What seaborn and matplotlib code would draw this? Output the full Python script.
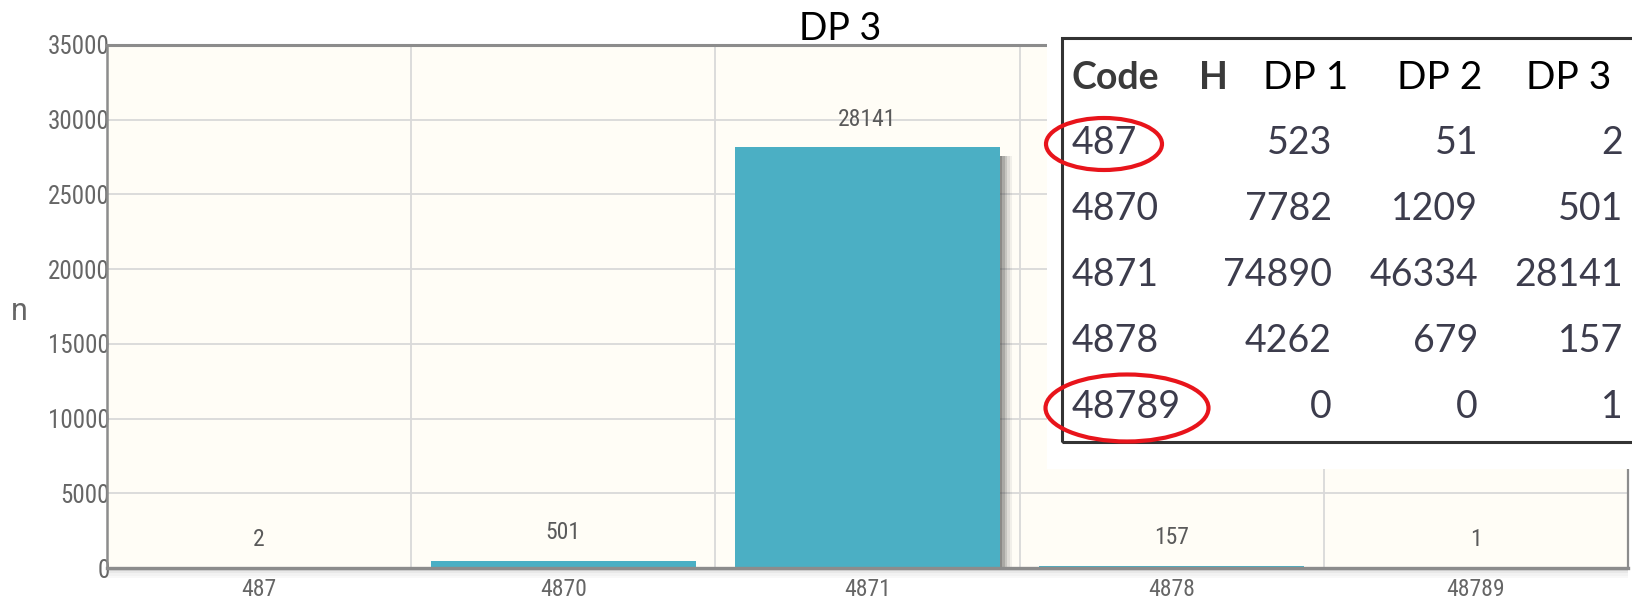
import numpy as np
import pandas as pd
import matplotlib
matplotlib.use('Agg')
import matplotlib.pyplot as plt
from matplotlib import font_manager
from matplotlib.patches import Rectangle, Ellipse
import seaborn as sns

codes = ['487', '4870', '4871', '4878', '48789']
dp1 = [523, 7782, 74890, 4262, 0]
dp2 = [51, 1209, 46334, 679, 0]
dp3 = [2, 501, 28141, 157, 1]
y_ticks = [0, 5000, 10000, 15000, 20000, 25000, 30000, 35000]

W, H = 1633, 600

# pick a narrow font for the chart labels if there is one
names = {f.name for f in font_manager.fontManager.ttflist}
narrow = 'Roboto'
for cand in ['Liberation Sans Narrow', 'Roboto Condensed', 'DejaVu Sans Condensed']:
    if cand in names:
        narrow = cand
        break

sns.set_style('white')
plt.rcParams['font.family'] = ['Lato', 'DejaVu Sans']

fig = plt.figure(figsize=(W / 100, H / 100), dpi=100)
fig.patch.set_facecolor('white')
ax = fig.add_axes([107 / W, 32 / H, 1521 / W, 523 / H])
ax.set_facecolor('#fffdf6')

df = pd.DataFrame({'code': codes, 'n': dp3})
sns.barplot(data=df, x='code', y='n', color='#4bafc4', saturation=1,
            width=0.87, ax=ax, zorder=3, linewidth=0)

# soft shadow on the right side of each bar
for p in list(ax.patches):
    x0, w, h = p.get_x(), p.get_width(), p.get_height()
    if h > 600:
        for k, a in enumerate([0.62, 0.45, 0.30, 0.17, 0.07]):
            ax.add_patch(Rectangle((x0 + w + k * 0.008, 0), 0.008, h - 600,
                                   color='#444444', alpha=a, lw=0, zorder=2))

ax.bar_label(ax.containers[0], labels=[str(v) for v in dp3], padding=12,
             color='#5a5a5a', fontsize=17, family=narrow)

ax.set_xlim(-0.5, 4.5)
ax.set_ylim(0, 35000)
ax.set_yticks(y_ticks)
ax.set_yticklabels([str(v) for v in y_ticks])
ax.set_xticks(np.arange(-0.5, 5, 1), minor=True)

ax.set_axisbelow(True)
ax.yaxis.grid(True, color='#d9d9d9', lw=1.3)
ax.xaxis.grid(True, which='minor', color='#d9d9d9', lw=1.3)
ax.xaxis.grid(False, which='major')

ax.tick_params(axis='y', length=0, pad=-2, labelsize=18, labelcolor='#666666')
ax.tick_params(axis='x', which='major', length=0, pad=7, labelsize=17,
               labelcolor='#666666')
ax.tick_params(axis='x', which='minor', length=7, width=1.2, color='#c8c8c8',
               direction='out')
for lab in ax.get_xticklabels() + ax.get_yticklabels():
    lab.set_family(narrow)

ax.set_xlabel('')
ax.set_ylabel('n', rotation=0, fontsize=22, color='#666666', family='Roboto',
              va='center', ha='center')
ax.yaxis.set_label_coords(-88 / 1521, 257 / 523)

for side, lw in [('left', 1.8), ('top', 2.2), ('right', 1.6), ('bottom', 2.4)]:
    ax.spines[side].set_visible(True)
    ax.spines[side].set_color('#8c8c8c')
    ax.spines[side].set_linewidth(lw)
    ax.spines[side].set_zorder(4)

# shadow under the bottom axis line
for k, a in enumerate([0.30, 0.18, 0.10, 0.05]):
    ax.add_patch(Rectangle((0, -(k + 1) * 2.5 / 523), 1, 2.5 / 523,
                           transform=ax.transAxes, color='#808080', alpha=a,
                           lw=0, clip_on=False, zorder=1))

fig.text(840 / W, 1 - 40 / H, 'DP 3', ha='center', va='baseline',
         fontsize=27, color='black')

# pasted table in the upper right
fig.add_artist(Rectangle((1047 / W, 1 - 469 / H), (W - 1047) / W, 439 / H,
                         transform=fig.transFigure, facecolor='white',
                         edgecolor='none', zorder=5))
fig.add_artist(Rectangle((1062 / W, 1 - 442 / H), (W + 20 - 1062) / W, 404 / H,
                         transform=fig.transFigure, facecolor='none',
                         edgecolor='#333333', lw=2.2, zorder=6))

fy = lambda y: 1 - y / H
fx = lambda x: x / W
fig.text(fx(1072), fy(78), 'Code', fontsize=27, fontweight='bold',
         color='#3a3a3a', va='center', zorder=7)
fig.text(fx(1199), fy(78), 'H', fontsize=27, fontweight='bold',
         color='#3a3a3a', va='center', zorder=7)
for x, t in [(1263, 'DP 1'), (1397, 'DP 2'), (1526, 'DP 3')]:
    fig.text(fx(x), fy(78), t, fontsize=28, color='black', va='center', zorder=7)

row_y = [143, 209, 275, 341, 407]
for i, y in enumerate(row_y):
    fig.text(fx(1072), fy(y), codes[i], fontsize=27, color='#3c3c4c',
             va='center', zorder=7)
    for xr, col in [(1332, dp1), (1478, dp2), (1623, dp3)]:
        fig.text(fx(xr), fy(y), str(col[i]), fontsize=27, color='#3c3c4c',
                 va='center', ha='right', zorder=7)

for cx, cy, w, h in [(1104, 144, 116, 52), (1127, 408, 163, 67)]:
    fig.add_artist(Ellipse((fx(cx), fy(cy)), w / W, h / H,
                           transform=fig.transFigure, facecolor='none',
                           edgecolor='#e8141b', lw=3, zorder=8))

fig.savefig('out.png', dpi=100)
